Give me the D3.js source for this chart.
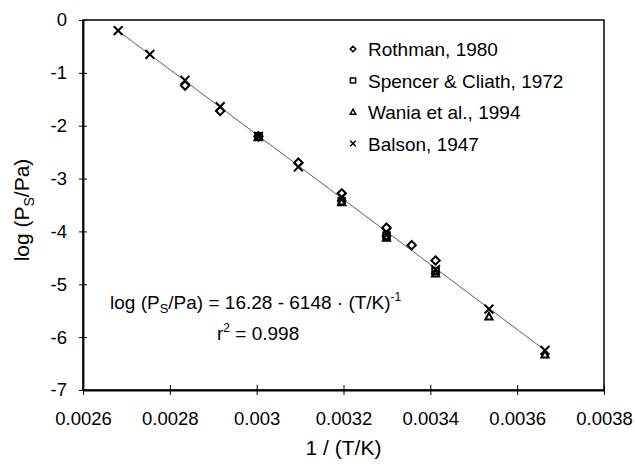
<!DOCTYPE html>
<html>
<head>
<meta charset="utf-8">
<script src="https://cdn.jsdelivr.net/npm/d3@7"></script>
<style>
  body { margin: 0; background: #fff; }
  text { font-family: "Liberation Sans", Arial, sans-serif; fill: #000; }
</style>
</head>
<body>
<div id="chart-container"></div>
<script>
// values: [1/(T/K), log(Ps/Pa)]
const rothman = [
  [0.002835, -1.24], [0.002916, -1.72], [0.003004, -2.2], [0.003096, -2.7],
  [0.003196, -3.28], [0.003299, -3.93], [0.003357, -4.26], [0.003412, -4.55]
];
const spencer = [
  [0.003004, -2.2], [0.003196, -3.43], [0.003299, -4.08], [0.003412, -4.75]
];
const wania = [
  [0.003004, -2.22], [0.003196, -3.45], [0.003299, -4.12], [0.003412, -4.8],
  [0.003535, -5.61], [0.003664, -6.33]
];
const balson = [
  [0.002681, -0.2], [0.002754, -0.65], [0.002835, -1.14], [0.002916, -1.64],
  [0.003004, -2.2], [0.003096, -2.78], [0.003196, -3.35], [0.003299, -4.02],
  [0.003412, -4.72], [0.003535, -5.47], [0.003664, -6.25]
];
const fitLine = [[0.00268, -0.2], [0.003666, -6.26]];
const xTicks = [0.0026, 0.0028, 0.003, 0.0032, 0.0034, 0.0036, 0.0038];
const yTicks = [0, -1, -2, -3, -4, -5, -6, -7];
const seriesNames = ["Rothman, 1980", "Spencer & Cliath, 1972", "Wania et al., 1994", "Balson, 1947"];

const width = 635;
const height = 464;
const margins = { top: 20, right: 31, bottom: 74, left: 83 };
const chartWidth = width - margins.left - margins.right;
const chartHeight = height - margins.top - margins.bottom;

const xScale = d3.scaleLinear().domain([0.0026, 0.0038]).range([0, chartWidth]);
const yScale = d3.scaleLinear().domain([-7, 0]).range([chartHeight, 0]);

// marker shapes, centred on 0,0
const shapes = {
  diamond: r => `M0,${-r}L${r},0L0,${r}L${-r},0Z`,
  square: r => `M${-r},${-r}H${r}V${r}H${-r}Z`,
  triangle: r => `M0,${-r}L${r},${r * 0.8}H${-r}Z`,
  cross: r => `M${-r},${-r}L${r},${r}M${r},${-r}L${-r},${r}`
};

const svg = d3
  .select("#chart-container")
  .append("svg")
  .attr("width", width)
  .attr("height", height);

const chart = svg
  .append("g")
  .attr("transform", `translate(${margins.left}, ${margins.top})`);

// frame
chart
  .append("rect")
  .attr("width", chartWidth)
  .attr("height", chartHeight)
  .attr("fill", "none")
  .attr("stroke", "#000")
  .attr("stroke-width", 1.5);

const xAxis = d3
  .axisBottom(xScale)
  .tickValues(xTicks)
  .tickSizeInner(5)
  .tickSizeOuter(0)
  .tickPadding(17)
  .tickFormat(d => +d.toFixed(4) + "");

const yAxis = d3
  .axisLeft(yScale)
  .tickValues(yTicks)
  .tickSizeInner(4)
  .tickSizeOuter(0)
  .tickPadding(12)
  .tickFormat(d => d + "");

const gx = chart
  .append("g")
  .attr("transform", `translate(0, ${chartHeight})`)
  .call(xAxis);
gx.selectAll(".tick line").attr("y1", -5);

const gy = chart.append("g").call(yAxis);
gy.selectAll(".tick line").attr("x1", 4);

[gx, gy].forEach(g => {
  g.select(".domain").attr("stroke-width", 1.8);
  g.selectAll("text").style("font-size", "18.5px").attr("fill", "#000");
  g.selectAll(".tick line").attr("stroke", "#000");
});

// regression line
chart
  .append("line")
  .attr("x1", xScale(fitLine[0][0]))
  .attr("y1", yScale(fitLine[0][1]))
  .attr("x2", xScale(fitLine[1][0]))
  .attr("y2", yScale(fitLine[1][1]))
  .attr("stroke", "#333")
  .attr("stroke-width", 0.8);

const drawSeries = (data, shape, r) => {
  chart
    .append("g")
    .selectAll("path")
    .data(data)
    .enter()
    .append("path")
    .attr("transform", d => `translate(${xScale(d[0])}, ${yScale(d[1])})`)
    .attr("d", shapes[shape](r))
    .attr("fill", "none")
    .attr("stroke", "#000")
    .attr("stroke-width", 2);
};

drawSeries(rothman, "diamond", 4.2);
drawSeries(spencer, "square", 3.3);
drawSeries(wania, "triangle", 3.6);
drawSeries(balson, "cross", 4.4);

// legend
const legendShapes = [["diamond", 2.8], ["square", 2.6], ["triangle", 2.8], ["cross", 2.8]];
const legend = svg.append("g");
seriesNames.forEach((name, i) => {
  const y = 49 + i * 31.5;
  legend
    .append("path")
    .attr("transform", `translate(353, ${y})`)
    .attr("d", shapes[legendShapes[i][0]](legendShapes[i][1]))
    .attr("fill", "none")
    .attr("stroke", "#000")
    .attr("stroke-width", 1.5);
  legend
    .append("text")
    .attr("x", 368)
    .attr("y", y + 7)
    .style("font-size", "19px")
    .text(name);
});

// equation
const eq = svg
  .append("text")
  .attr("x", 110)
  .attr("y", 309)
  .style("font-size", "19px");
eq.append("tspan").text("log (P");
eq.append("tspan").attr("dy", 4).style("font-size", "13px").text("S");
eq.append("tspan").attr("dy", -4).text("/Pa) = 16.28 - 6148 \u00b7 (T/K)");
eq.append("tspan").attr("dy", -8).style("font-size", "12px").text("-1");

const r2 = svg
  .append("text")
  .attr("x", 217)
  .attr("y", 340)
  .style("font-size", "19px");
r2.append("tspan").text("r");
r2.append("tspan").attr("dy", -8).style("font-size", "12px").text("2");
r2.append("tspan").attr("dy", 8).text(" = 0.998");

// axis titles
svg
  .append("text")
  .attr("x", margins.left + chartWidth / 2)
  .attr("y", 455)
  .attr("text-anchor", "middle")
  .style("font-size", "21px")
  .text("1 / (T/K)");

const yt = svg
  .append("text")
  .attr("transform", "translate(29, 210) rotate(-90)")
  .attr("text-anchor", "middle")
  .style("font-size", "21px");
yt.append("tspan").text("log (P");
yt.append("tspan").attr("dy", 5).style("font-size", "14px").text("S");
yt.append("tspan").attr("dy", -5).text("/Pa)");
</script>
</body>
</html>
